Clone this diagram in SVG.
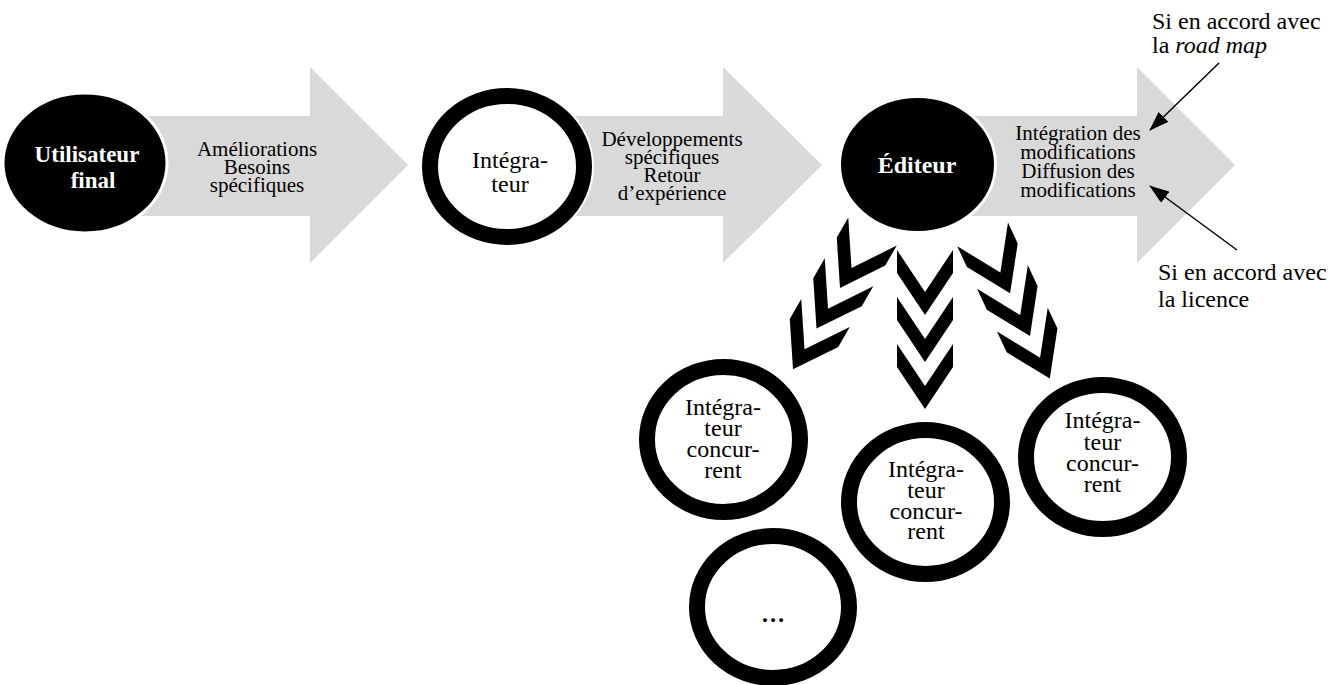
<svg xmlns="http://www.w3.org/2000/svg" xmlns:xlink="http://www.w3.org/1999/xlink" width="1344" height="685" viewBox="0 0 1344 685">
<style>
.flow{fill:#d9d9d9}
.t{font-family:"Liberation Serif","Times New Roman",serif;font-size:21px;fill:#000;text-anchor:middle}
.tb{font-family:"Liberation Serif","Times New Roman",serif;font-weight:bold;fill:#fff;text-anchor:middle}
.tc{font-family:"Liberation Serif","Times New Roman",serif;font-size:24px;fill:#000;text-anchor:middle}
.note{font-family:"Liberation Serif","Times New Roman",serif;font-size:24px;fill:#000}
.solid{fill:#000;stroke:#fff;stroke-width:3}
.ring{fill:#fff;stroke:#000;stroke-width:16}
.chev{fill:#000}
.thin{stroke:#000;stroke-width:1.5;fill:none}
</style>
<defs>
<marker id="ah" markerUnits="userSpaceOnUse" markerWidth="20" markerHeight="14" refX="19" refY="7" orient="auto">
<path d="M0,0 L20,7 L0,14 Z" fill="#000"/>
</marker>
<g id="chev3">
<polygon class="chev" points="-28,-79 0,-37 28,-79 28,-56 0,-14 -28,-56"/>
<polygon class="chev" points="-28,-32 0,10 28,-32 28,-9 0,33 -28,-9"/>
<polygon class="chev" points="-28,15 0,57 28,15 28,38 0,80 -28,38"/>
</g>
</defs>
<rect width="1344" height="685" fill="#fff"/>

<g id="connectors">
<polygon class="flow" points="120,116 310,116 310,67 408,165 310,263 310,216 120,216"/>
<polygon class="flow" points="540,116 723,116 723,67 822,165 723,263 723,216 540,216"/>
<polygon class="flow" points="950,116 1137,116 1137,67 1235,165 1137,263 1137,216 950,216"/>
<use xlink:href="#chev3" href="#chev3" transform="translate(833,300) rotate(30)"/>
<use xlink:href="#chev3" href="#chev3" transform="translate(925,329)"/>
<use xlink:href="#chev3" href="#chev3" transform="translate(1016,306) rotate(-25)"/>
<line class="thin" x1="1219" y1="63" x2="1150" y2="130" marker-end="url(#ah)"/>
<line class="thin" x1="1237" y1="250" x2="1150" y2="186" marker-end="url(#ah)"/>
</g>

<g id="label-flow1">
<text class="t" x="257" y="156">Améliorations</text>
<text class="t" x="257" y="174">Besoins</text>
<text class="t" x="257" y="192">spécifiques</text>
</g>
<g id="label-flow2">
<text class="t" x="672" y="146">Développements</text>
<text class="t" x="672" y="164">spécifiques</text>
<text class="t" x="672" y="182">Retour</text>
<text class="t" x="672" y="200">d’expérience</text>
</g>
<g id="label-flow3">
<text class="t" x="1078" y="140">Intégration des</text>
<text class="t" x="1078" y="159">modifications</text>
<text class="t" x="1078" y="178">Diffusion des</text>
<text class="t" x="1078" y="197">modifications</text>
</g>

<g id="node-utilisateur">
<ellipse class="solid" cx="85" cy="163" rx="82" ry="70"/>
<text class="tb" font-size="23" x="87" y="162">Utilisateur</text>
<text class="tb" font-size="23" x="93" y="188">final</text>
</g>

<g id="node-integrateur">
<ellipse cx="507" cy="166.5" rx="87" ry="80.5" fill="#fff"/>
<ellipse class="ring" cx="507" cy="166.5" rx="77" ry="70.5"/>
<text class="tc" font-size="26" x="510" y="168">Intégra-</text>
<text class="tc" font-size="26" x="510" y="192">teur</text>
</g>

<g id="node-editeur">
<ellipse class="solid" cx="917.5" cy="164.5" rx="78" ry="68"/>
<text class="tb" font-size="24" x="917" y="173">Éditeur</text>
</g>

<g id="node-concurrent-1">
<ellipse class="ring" cx="723.5" cy="439.5" rx="76.5" ry="72.5"/>
<text class="tc" x="723" y="415">Intégra-</text>
<text class="tc" x="723" y="436">teur</text>
<text class="tc" x="723" y="457">concur-</text>
<text class="tc" x="723" y="478">rent</text>
</g>

<g id="node-concurrent-2">
<ellipse class="ring" cx="925.5" cy="502" rx="76.5" ry="72"/>
<text class="tc" x="926" y="477">Intégra-</text>
<text class="tc" x="926" y="498">teur</text>
<text class="tc" x="926" y="519">concur-</text>
<text class="tc" x="926" y="539">rent</text>
</g>

<g id="node-concurrent-3">
<ellipse class="ring" cx="1102.5" cy="457" rx="76.5" ry="72"/>
<text class="tc" x="1102.5" y="428">Intégra-</text>
<text class="tc" x="1102.5" y="450">teur</text>
<text class="tc" x="1102.5" y="471">concur-</text>
<text class="tc" x="1102.5" y="492">rent</text>
</g>

<g id="node-autres">
<ellipse class="ring" cx="773" cy="607" rx="76" ry="71"/>
<text class="tc" font-weight="bold" x="773" y="622">…</text>
</g>

<g id="note-roadmap">
<text class="note" x="1152" y="29">Si en accord avec</text>
<text class="note" x="1152" y="53">la <tspan font-style="italic">road map</tspan></text>
</g>
<g id="note-licence">
<text class="note" x="1158" y="280">Si en accord avec</text>
<text class="note" x="1158" y="307">la licence</text>
</g>
</svg>
